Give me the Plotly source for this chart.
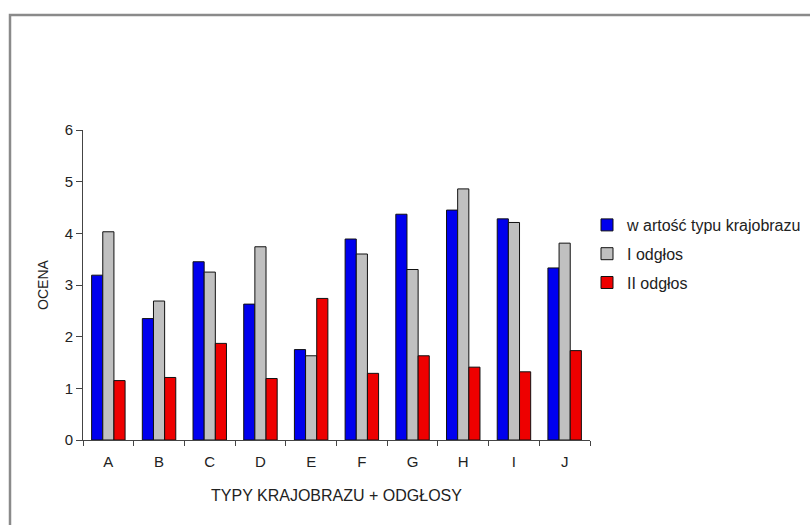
import plotly.graph_objects as go

categories = ["A", "B", "C", "D", "E", "F", "G", "H", "I", "J"]
wartosc = [3.19, 2.35, 3.45, 2.63, 1.75, 3.89, 4.37, 4.45, 4.28, 3.33]
odglos_1 = [4.03, 2.69, 3.25, 3.74, 1.63, 3.60, 3.30, 4.86, 4.21, 3.81]
odglos_2 = [1.15, 1.21, 1.87, 1.19, 2.74, 1.29, 1.63, 1.41, 1.32, 1.73]
series_names = ["w artość typu krajobrazu", "I odgłos", "II odgłos"]
colors = ["#0000ee", "#c0c0c0", "#ee0000"]

fig = go.Figure()
for i, (name, vals, col) in enumerate(zip(series_names, [wartosc, odglos_1, odglos_2], colors)):
    fig.add_trace(go.Bar(
        x=categories, y=vals, name=name, legendgroup=f"g{i}",
        marker=dict(color=col, line=dict(color="#111111", width=1)),
    ))

L, R, T, B = 83, 220, 130, 85
W, H = 810, 525
pw, ph = W - L - R, H - T - B

def px_to_x(px):
    return (px - L) / pw

def py_to_y(py):
    return (H - B - py) / ph

fig.add_shape(type="path", xref="paper", yref="paper",
              path=f"M {px_to_x(10)} {py_to_y(530)} L {px_to_x(10)} {py_to_y(15)} L {px_to_x(815)} {py_to_y(15)}",
              line=dict(color="#8a8a8a", width=2.5))

font = "Liberation Sans, Arial, sans-serif"
fig.update_layout(
    width=W, height=H,
    margin=dict(l=L, r=R, t=T, b=B, autoexpand=False),
    paper_bgcolor="white", plot_bgcolor="white",
    barmode="group", bargap=0.34, bargroupgap=0,
    font=dict(family=font, size=15, color="#222222"),
    showlegend=True,
    legend=dict(xref="container", yref="container",
                x=587 / W, y=1 - 208 / H, xanchor="left", yanchor="top",
                font=dict(size=16, color="#222222"), tracegroupgap=5,
                bgcolor="rgba(0,0,0,0)", itemwidth=30),
    xaxis=dict(showline=True, linecolor="#444444", linewidth=1,
               ticks="outside", ticklen=5, tickcolor="#444444", tickson="boundaries",
               ticklabelstandoff=8,
               showgrid=False, title=dict(text="TYPY KRAJOBRAZU + ODGŁOSY", standoff=20,
                                          font=dict(size=16))),
    yaxis=dict(range=[0, 6], dtick=1, showline=True, linecolor="#444444", linewidth=1,
               ticks="outside", ticklen=6, tickcolor="#444444", showgrid=False,
               zeroline=False, title=dict(text="OCENA", standoff=12, font=dict(size=14))),
)

fig.write_html("out.html")
